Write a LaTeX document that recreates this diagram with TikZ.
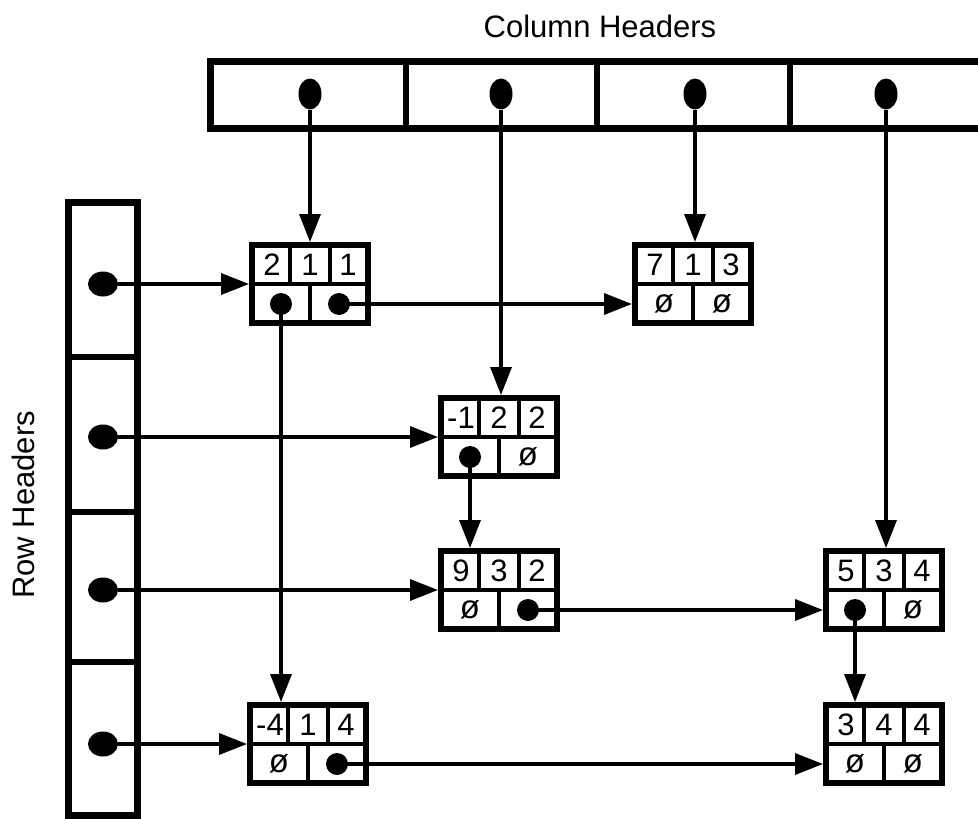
\documentclass[tikz,border=0pt]{standalone}
\usepackage{fontspec}
\setmainfont{Liberation Sans}
\usetikzlibrary{arrows.meta,calc,shapes.geometric}
\tikzset{
  bar/.style={draw, line width=7pt},
  bardiv/.style={line width=5.5pt},
  rec/.style={draw, line width=6pt, minimum width=116pt, minimum height=78pt, inner sep=0pt},
  inner/.style={line width=4pt},
  num/.style={inner sep=0pt, font=\fontsize{31}{31}\selectfont},
  nul/.style={inner sep=0pt, font=\fontsize{33}{33}\selectfont},
  pdot/.style={circle, fill=black, minimum size=22pt, inner sep=0pt},
  cdot/.style={ellipse, fill=black, minimum width=23pt, minimum height=31pt, inner sep=0pt},
  rdot/.style={ellipse, fill=black, minimum width=30pt, minimum height=25pt, inner sep=0pt},
  ar/.style={line width=3.5pt, -{Triangle[length=28pt,width=21pt]}},
  lab/.style={font=\fontsize{31}{31}\selectfont}
}
\newcommand\mnode[5]{%
  \node[rec] (#1) at (#2) {};
  \draw[inner] (#1.west) -- (#1.east);
  \draw[inner] ($(#1.north west)!1/3!(#1.north east)$) -- ($(#1.west)!1/3!(#1.east)$);
  \draw[inner] ($(#1.north west)!2/3!(#1.north east)$) -- ($(#1.west)!2/3!(#1.east)$);
  \draw[inner] (#1.south) -- (#1.center);
  \node[num] (#1-a) at ($(#1.center)+(-38,-19)$) {#3};
  \node[num] (#1-b) at ($(#1.center)+(0,-19)$) {#4};
  \node[num] (#1-c) at ($(#1.center)+(38,-19)$) {#5};
}
\begin{document}
\begin{tikzpicture}[x=1pt,y=-1pt]
\useasboundingbox (0,0) rectangle (978,819);
\clip (0,0) rectangle (978,819);
\fill[white] (0,0) rectangle (978,819);

% titles
\node[lab] (ct) at (600,26) {Column Headers};
\node[lab, rotate=90] (rt) at (23,505) {Row Headers};

% column header bar
\draw[bar] (210,61) rectangle (1010,128);
\draw[bardiv] (406,61) -- (406,128);
\draw[bardiv] (597,61) -- (597,128);
\draw[bardiv] (790,61) -- (790,128);
\node[cdot] (cd1) at (310,94) {};
\node[cdot] (cd2) at (501,94) {};
\node[cdot] (cd3) at (695,94) {};
\node[cdot] (cd4) at (886,94) {};

% row header bar
\draw[bar] (68,202) rectangle (137,815);
\draw[bardiv] (68,357) -- (137,357);
\draw[bardiv] (68,512) -- (137,512);
\draw[bardiv] (68,662) -- (137,662);
\node[rdot] (rd1) at (103,284) {};
\node[rdot] (rd2) at (103,437) {};
\node[rdot] (rd3) at (103,590) {};
\node[rdot] (rd4) at (103,744) {};

% matrix nodes
\mnode{A}{310,284}{2}{1}{1}
\mnode{B}{693,284}{7}{1}{3}
\mnode{C}{499,437}{-1}{2}{2}
\mnode{D}{499,590}{9}{3}{2}
\mnode{E}{884,590}{5}{3}{4}
\mnode{F}{308,744}{-4}{1}{4}
\mnode{G}{884,744}{3}{4}{4}

% bottom row contents
\node[pdot] (A-l) at ($(A.center)+(-29,20)$) {};
\node[pdot] (A-r) at ($(A.center)+(29,20)$) {};
\node[nul]  (B-l) at ($(B.center)+(-29,20)$) {ø};
\node[nul]  (B-r) at ($(B.center)+(29,20)$) {ø};
\node[pdot] (C-l) at ($(C.center)+(-29,20)$) {};
\node[nul]  (C-r) at ($(C.center)+(29,20)$) {ø};
\node[nul]  (D-l) at ($(D.center)+(-29,20)$) {ø};
\node[pdot] (D-r) at ($(D.center)+(29,20)$) {};
\node[pdot] (E-l) at ($(E.center)+(-29,20)$) {};
\node[nul]  (E-r) at ($(E.center)+(29,20)$) {ø};
\node[nul]  (F-l) at ($(F.center)+(-29,20)$) {ø};
\node[pdot] (F-r) at ($(F.center)+(29,20)$) {};
\node[nul]  (G-l) at ($(G.center)+(-29,20)$) {ø};
\node[nul]  (G-r) at ($(G.center)+(29,20)$) {ø};

% column arrows
\draw[ar] (cd1) -- (cd1 |- A.north);
\draw[ar] (cd2) -- (cd2 |- C.north);
\draw[ar] (cd3) -- (cd3 |- B.north);
\draw[ar] (cd4) -- (cd4 |- E.north);

% row arrows
\draw[ar] (rd1) -- (A.west);
\draw[ar] (rd2) -- (C.west);
\draw[ar] (rd3) -- (D.west);
\draw[ar] (rd4) -- (F.west);

% links between elements
\draw[ar] (A-r.center) -- (A-r.center -| B.west);
\draw[ar] (A-l.center) -- (A-l.center |- F.north);
\draw[ar] (C-l.center) -- (C-l.center |- D.north);
\draw[ar] (D-r.center) -- (D-r.center -| E.west);
\draw[ar] (E-l.center) -- (E-l.center |- G.north);
\draw[ar] (F-r.center) -- (F-r.center -| G.west);
\end{tikzpicture}
\end{document}
